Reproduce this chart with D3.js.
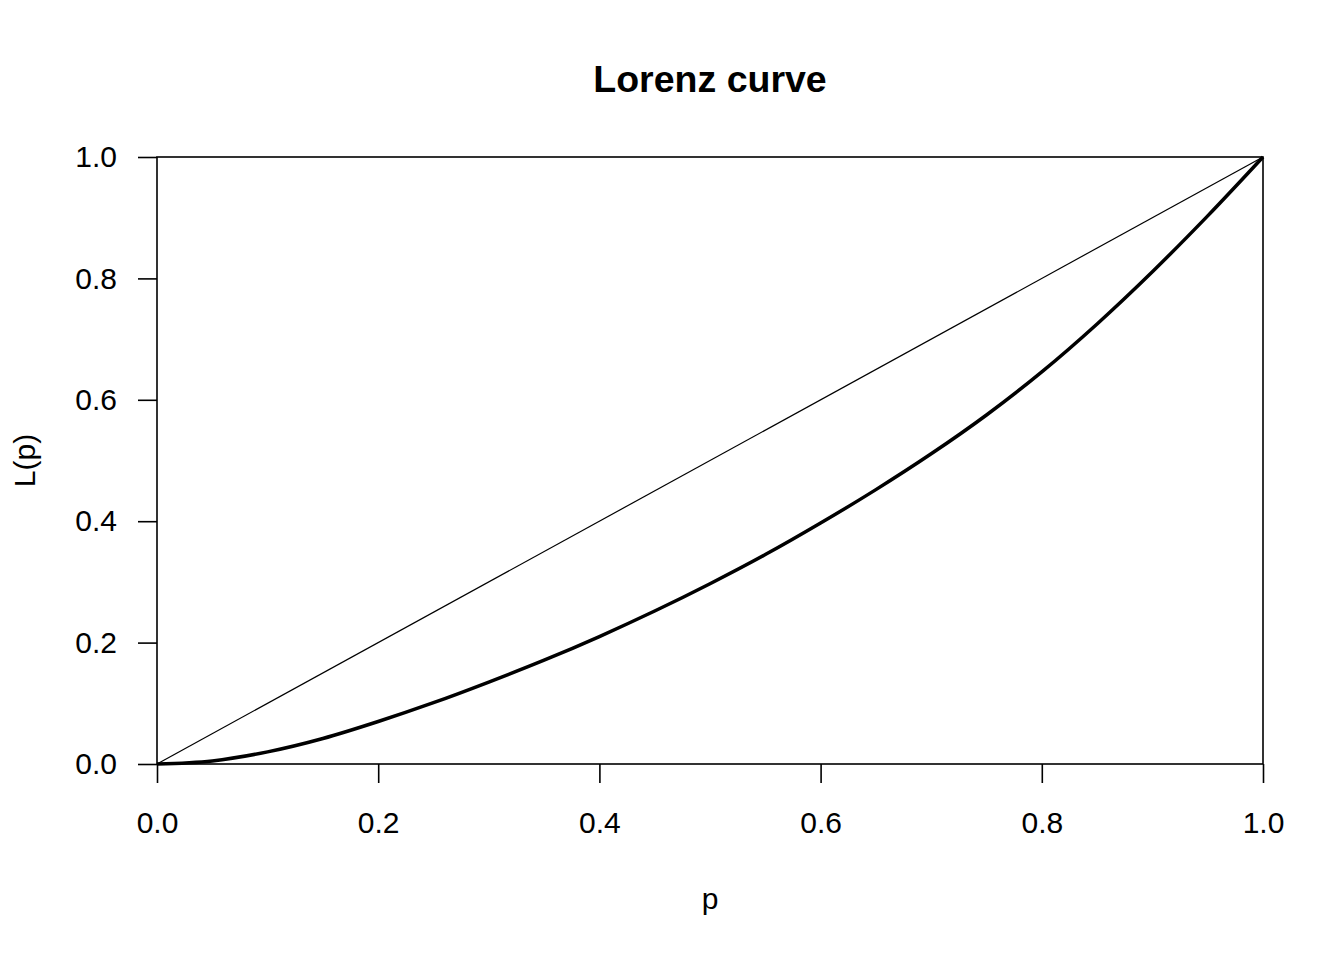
<!DOCTYPE html>
<html>
<head>
<meta charset="utf-8">
<script src="https://cdn.jsdelivr.net/npm/d3@7"></script>
<style>
  body { margin: 0; background: #fff; }
  text { font-family: "Liberation Sans", Arial, sans-serif; fill: #000; }
</style>
</head>
<body>
<div id="chart"></div>
<script>
// Lorenz curve values
var pValues = [0, 0.05, 0.10, 0.15, 0.20, 0.25, 0.30, 0.35, 0.40, 0.45, 0.50,
               0.55, 0.60, 0.65, 0.70, 0.75, 0.80, 0.85, 0.90, 0.95, 1.0];
var lValues = [0, 0.005, 0.020, 0.042, 0.070, 0.101, 0.135, 0.171, 0.210, 0.252, 0.297,
               0.345, 0.397, 0.452, 0.511, 0.575, 0.646, 0.725, 0.811, 0.903, 1.0];
var equality = [0, 1];
var xTicks = [0, 0.2, 0.4, 0.6, 0.8, 1.0];
var yTicks = [0, 0.2, 0.4, 0.6, 0.8, 1.0];

var width = 1344;
var height = 960;
var margin = {top: 157, right: 81, bottom: 196, left: 157};

var svg = d3.select('#chart').append('svg')
    .attr('width', width)
    .attr('height', height);

var x = d3.scaleLinear()
    .domain([0, 1])
    .range([margin.left, width - margin.right]);
var y = d3.scaleLinear()
    .domain([0, 1])
    .range([height - margin.bottom, margin.top]);

var chartData = pValues.map(function (p, i) {
    return {p: p, value: lValues[i]};
});

// box
svg.append('rect')
    .attr('x', x(0))
    .attr('y', y(1))
    .attr('width', x(1) - x(0))
    .attr('height', y(0) - y(1))
    .attr('fill', 'none')
    .attr('stroke', '#000')
    .attr('stroke-width', 1.6);

var xAxis = function (g) {
    return g
        .attr('transform', 'translate(0,' + y(0) + ')')
        .call(d3.axisBottom(x)
            .tickValues(xTicks)
            .tickFormat(d3.format('.1f'))
            .tickSize(19)
            .tickPadding(29)
            .tickSizeOuter(0))
        .call(g => g.select('.domain').remove())
        .call(g => g.selectAll('.tick line').attr('stroke-width', 1.6))
        .call(g => g.selectAll('.tick text')
            .attr('font-size', 30)
            .attr('font-family', '"Liberation Sans", Arial, sans-serif'));
};

var yAxis = function (g) {
    return g
        .attr('transform', 'translate(' + x(0) + ',0)')
        .call(d3.axisLeft(y)
            .tickValues(yTicks)
            .tickFormat(d3.format('.1f'))
            .tickSize(19)
            .tickPadding(21)
            .tickSizeOuter(0))
        .call(g => g.select('.domain').remove())
        .call(g => g.selectAll('.tick line').attr('stroke-width', 1.6))
        .call(g => g.selectAll('.tick text')
            .attr('font-size', 30)
            .attr('font-family', '"Liberation Sans", Arial, sans-serif'));
};

svg.append('g').call(xAxis);
svg.append('g').call(yAxis);

// line of equality
svg.append('path')
    .datum(equality)
    .attr('fill', 'none')
    .attr('stroke', '#000')
    .attr('stroke-width', 1.2)
    .attr('d', d3.line().x(d => x(d)).y(d => y(d)));

// Lorenz curve
var line = d3.line()
    .x(d => x(d.p))
    .y(d => y(d.value))
    .curve(d3.curveMonotoneX);

svg.append('path')
    .datum(chartData)
    .attr('fill', 'none')
    .attr('stroke', '#000')
    .attr('stroke-width', 3.5)
    .attr('stroke-linejoin', 'round')
    .attr('d', line);

// titles
svg.append('text')
    .attr('x', (x(0) + x(1)) / 2)
    .attr('y', 92)
    .attr('text-anchor', 'middle')
    .attr('font-size', 37.5)
    .attr('font-weight', 'bold')
    .text('Lorenz curve');

svg.append('text')
    .attr('x', (x(0) + x(1)) / 2)
    .attr('y', 909)
    .attr('text-anchor', 'middle')
    .attr('font-size', 30)
    .text('p');

svg.append('text')
    .attr('transform', 'translate(35,' + (y(0) + y(1)) / 2 + ') rotate(-90)')
    .attr('text-anchor', 'middle')
    .attr('font-size', 30)
    .text('L(p)');
</script>
</body>
</html>
